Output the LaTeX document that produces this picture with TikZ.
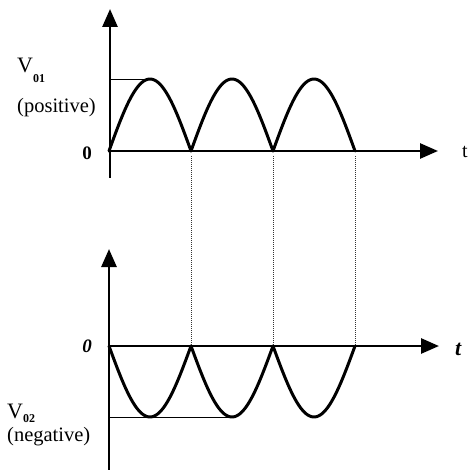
\documentclass[tikz,border=0pt]{standalone}
\usepackage{fontspec}
\setmainfont{Liberation Serif}
\usetikzlibrary{arrows.meta}
\tikzset{
  axis/.style={line width=2.8pt, -{Triangle[length=18pt,width=15pt]}},
  wave/.style={line width=3pt, line cap=round, line join=round},
  guide/.style={line width=0.9pt},
  drop/.style={line width=1pt, densely dotted, black!80},
  lbl/.style={inner sep=0pt, anchor=base west},
}
\begin{document}
\begin{tikzpicture}[x=1pt,y=-1pt]
\useasboundingbox (0,0) rectangle (468,470);
% ---- top graph ----
\coordinate (o1) at (110,151);
\coordinate (y1b) at (110,178);
\coordinate (y1t) at (110,9);
\coordinate (x1e) at (438,151);
\coordinate (p1) at (150,79);
\coordinate (p1a) at (110,79);
\draw[axis] (y1b) -- (y1t);
\draw[axis] (o1) -- (x1e);
\draw[guide] (p1a) -- (p1);
\foreach \k in {0,1,2}{
  \draw[wave] plot[domain=0:180, samples=50] ({109+82*\k+82*\x/180},{151-72*sin(\x)});
}
% ---- bottom graph ----
\coordinate (o2) at (109,346);
\coordinate (y2b) at (109,472);
\coordinate (y2t) at (109,249);
\coordinate (x2e) at (439,346);
\coordinate (q1a) at (109,417);
\coordinate (q1) at (231,417);
\draw[axis] (y2b) -- (y2t);
\draw[axis] (o2) -- (x2e);
\draw[guide] (q1a) -- (q1);
\foreach \k in {0,1,2}{
  \draw[wave] plot[domain=0:180, samples=50] ({109+82*\k+82*\x/180},{346+71*sin(\x)});
}
% ---- dotted drop lines ----
\foreach \n/\xx in {a/191,b/273,c/355}{
  \coordinate (d\n t) at (\xx,156);
  \coordinate (d\n b) at (\xx,346);
  \draw[drop] (d\n t) -- (d\n b);
}
% ---- labels ----
\node[lbl] (v1) at (17,73) {\fontsize{22}{22}\selectfont V\raisebox{-10pt}{\fontsize{12}{12}\selectfont\bfseries 01}};
\node[lbl] (pos) at (17,112.5) {\fontsize{20.5}{20.5}\selectfont (positive)};
\node[inner sep=0pt, anchor=base east] (z1) at (92,160) {\fontsize{19}{19}\selectfont\bfseries 0};
\node[lbl] (t1) at (462,158) {\fontsize{20}{20}\selectfont t};
\node[lbl] (v2) at (7,418) {\fontsize{22}{22}\selectfont V\raisebox{-4pt}{\fontsize{12}{12}\selectfont\bfseries 02}};
\node[lbl] (neg) at (7,441) {\fontsize{20.5}{20.5}\selectfont (negative)};
\node[inner sep=0pt, anchor=base east] (z2) at (92,352) {\fontsize{19}{19}\selectfont\itshape\bfseries 0};
\node[lbl] (t2) at (455,355) {\fontsize{22}{22}\selectfont\itshape\bfseries t};
\end{tikzpicture}
\end{document}
